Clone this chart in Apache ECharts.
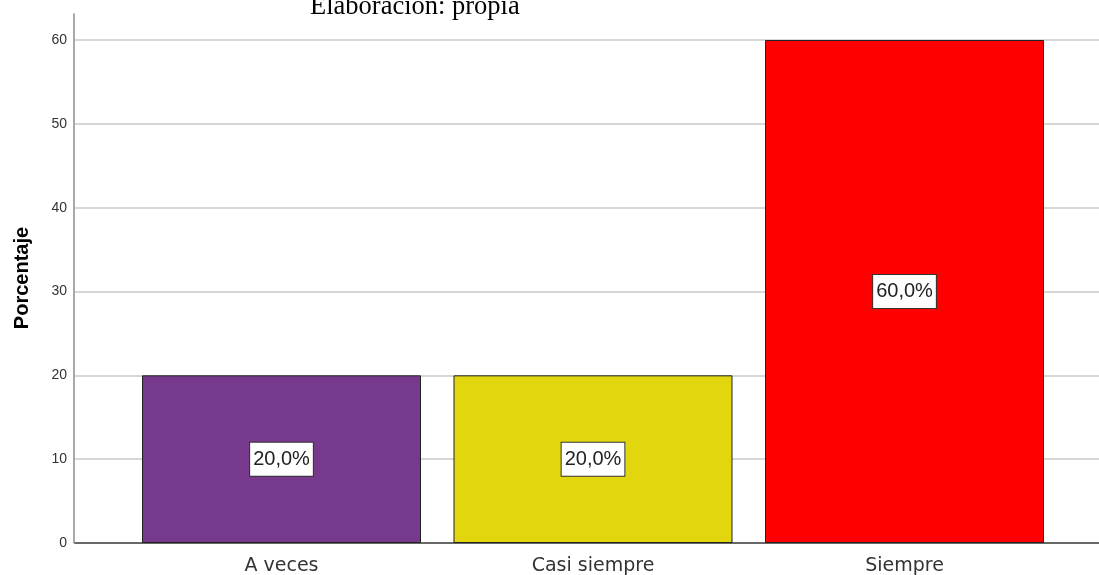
<!DOCTYPE html>
<html><head><meta charset="utf-8">
<script src="https://cdn.jsdelivr.net/npm/echarts@6/dist/echarts.min.js"></script>
<style>html,body{margin:0;padding:0;background:#fff}#c{width:1099px;height:575px}</style>
</head><body><div id="c"></div>
<script>
const categories = ['A veces', 'Casi siempre', 'Siempre'];
const values = [20, 20, 60];
const labels = ['20,0%', '20,0%', '60,0%'];
const colors = ['#77398C', '#E2D70F', '#FF0000'];
const yTicks = [0, 10, 20, 30, 40, 50, 60];
const yAxisTitle = 'Porcentaje';

const chart = echarts.init(document.getElementById('c'));
chart.setOption({
  animation: false,
  backgroundColor: '#fff',
  title: {
    text: 'Elaboración: propia', left: 310, top: -6, padding: 0,
    textStyle: { fontFamily: 'Liberation Serif', fontSize: 26.5, fontWeight: 'normal', color: '#000' }
  },
  graphic: [{
    type: 'text', x: 22, y: 278, rotation: Math.PI / 2,
    style: { text: yAxisTitle, align: 'center', verticalAlign: 'middle', fontSize: 20, fontWeight: 'bold',
      fill: '#000', fontFamily: 'Liberation Sans' }
  }],
  grid: [
    { left: 75, right: 0, top: 40, bottom: 32, outerBoundsMode: 'none' },
    { left: 125.75, width: 934.5, top: 40, bottom: 32, outerBoundsMode: 'none' },
    { left: 74, width: 1, top: 14, bottom: 32, outerBoundsMode: 'none' }
  ],
  xAxis: [
    { gridIndex: 0, type: 'value', min: 0, max: 1, axisLabel: { show: false }, splitLine: { show: false }, axisTick: { show: false },
      axisLine: { show: true, lineStyle: { color: '#444', width: 1.5 } } },
    { gridIndex: 1, type: 'category', data: categories, axisLine: { show: false }, axisTick: { show: false },
      axisLabel: { margin: 14, fontSize: 19, color: '#333', fontFamily: 'DejaVu Sans' } },
    { gridIndex: 2, type: 'value', show: false }
  ],
  yAxis: [
    { gridIndex: 0, type: 'value', min: 0, max: 60, interval: 10,
      axisLine: { show: false }, axisTick: { show: false },
      axisLabel: { margin: 8, fontSize: 14, color: '#333', fontFamily: 'Liberation Sans',
        formatter: v => yTicks.includes(v) ? String(v) : '' },
      splitLine: { lineStyle: { color: '#c8c8c8', width: 1.5 } } },
    { gridIndex: 1, type: 'value', min: 0, max: 60, show: false },
    { gridIndex: 2, type: 'value', min: 0, max: 1, axisLabel: { show: false }, splitLine: { show: false }, axisTick: { show: false },
      axisLine: { show: true, lineStyle: { color: '#8c8c8c', width: 1.5 } } }
  ],
  series: [{
    type: 'bar', xAxisIndex: 1, yAxisIndex: 1, barWidth: 279,
    data: values.map((v, i) => ({ value: v, itemStyle: { color: colors[i] } })),
    itemStyle: { borderColor: '#222', borderWidth: 1 },
    label: {
      show: true, position: 'inside', formatter: p => labels[p.dataIndex],
      fontSize: 20, color: '#222', fontFamily: 'Liberation Sans',
      backgroundColor: '#fff', borderColor: '#333', borderWidth: 1, padding: [7, 3, 6, 3]
    }
  }]
});
</script></body></html>
